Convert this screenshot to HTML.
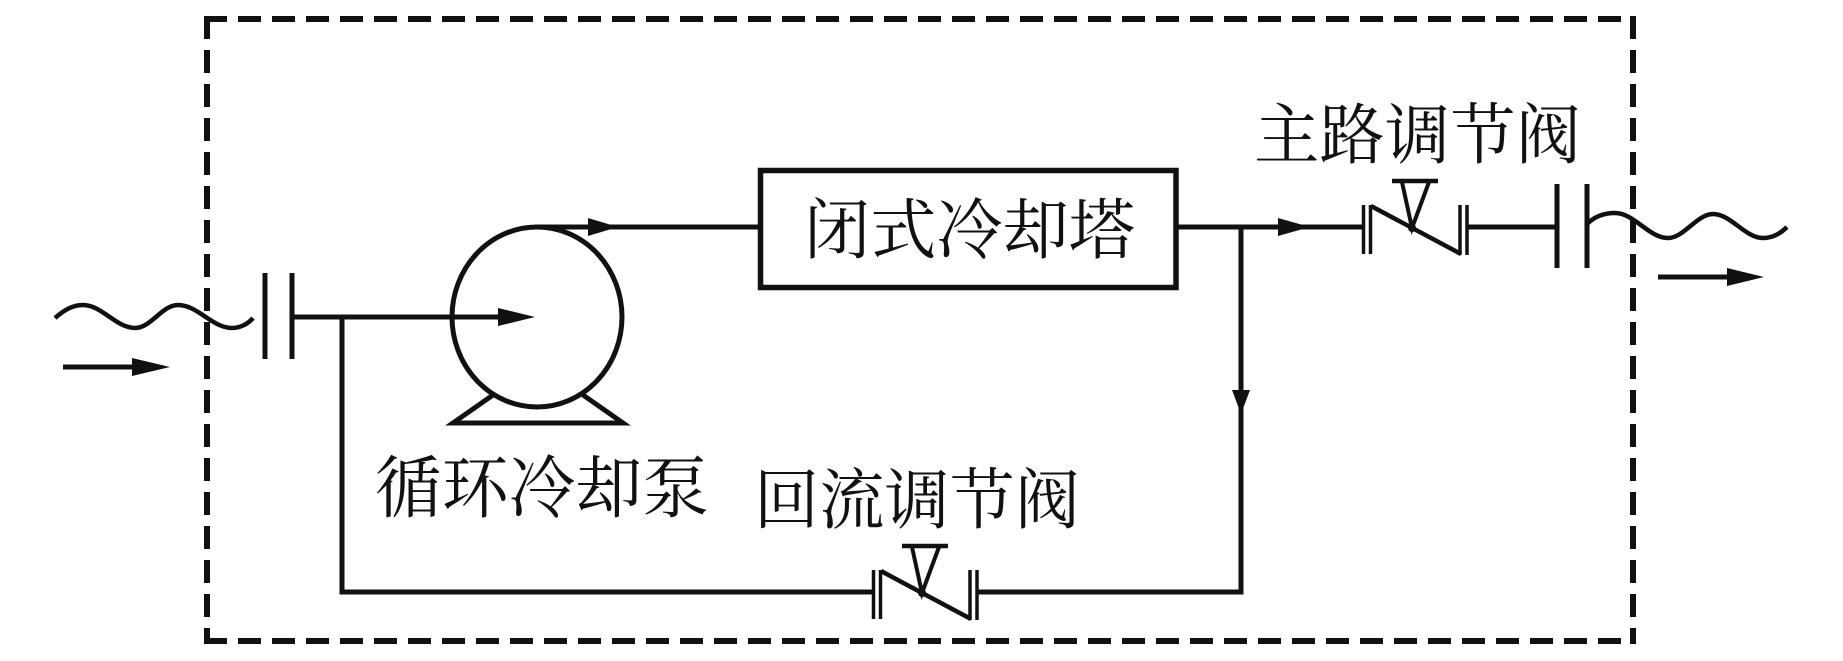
<!DOCTYPE html>
<html>
<head>
<meta charset="utf-8">
<style>
  html, body { margin: 0; padding: 0; background: #fff; }
  svg { display: block; }
  text { font-family: "Liberation Serif", "Noto Serif CJK SC", "Noto Sans CJK SC", serif; fill: #111; }
</style>
</head>
<body>
<svg width="1843" height="661" viewBox="0 0 1843 661" xmlns="http://www.w3.org/2000/svg">
  <rect x="0" y="0" width="1843" height="661" fill="#fff"/>

  <!-- dashed boundary -->
  <g stroke="#111" stroke-width="6" stroke-dasharray="23 11" fill="none">
    <line x1="204" y1="19" x2="1636" y2="19"/>
    <line x1="207" y1="16" x2="207" y2="644"/>
    <line x1="1633" y1="16" x2="1633" y2="644"/>
    <line x1="204" y1="641" x2="1636" y2="641"/>
  </g>

  <!-- inlet wave -->
  <path d="M55,318 C63,311 72,305 83,305 C102,305 116,328 135,328 C151,328 162,305 178,305 C198,305 212,328 232,328 C240,328 248,324 253,318"
        stroke="#111" stroke-width="4.5" fill="none"/>
  <!-- inlet arrow -->
  <line x1="63" y1="367" x2="136" y2="367" stroke="#111" stroke-width="5"/>
  <polygon points="132,358 170,367 132,376" fill="#111"/>

  <!-- inlet flanges -->
  <g stroke="#111" stroke-width="5">
    <line x1="265" y1="273" x2="265" y2="359"/>
    <line x1="292" y1="273" x2="292" y2="359"/>
  </g>

  <!-- pipes -->
  <g stroke="#111" stroke-width="5" fill="none">
    <line x1="292" y1="317" x2="505" y2="317"/>
    <polyline points="342,317 342,592 873,592"/>
    <line x1="978" y1="592" x2="1243.5" y2="592"/>
    <line x1="1241" y1="227" x2="1241" y2="594.5"/>
    <line x1="535" y1="227" x2="760" y2="227"/>
    <line x1="1176" y1="227" x2="1363" y2="227"/>
    <line x1="1467" y1="227" x2="1557" y2="227"/>
  </g>

  <!-- pump -->
  <ellipse cx="537" cy="317" rx="85" ry="90" stroke="#111" stroke-width="5" fill="none"/>
  <polyline points="493,395 453,423 623,423 583,395" stroke="#111" stroke-width="5" fill="none" stroke-linejoin="miter"/>
  <polygon points="498,308 535,317 498,326" fill="#111"/>
  <polygon points="588,218 618,227 588,236" fill="#111"/>

  <!-- cooling tower box -->
  <rect x="760.5" y="170.5" width="415.5" height="117" stroke="#111" stroke-width="5.5" fill="none"/>

  <!-- arrows on lines -->
  <polygon points="1278,218 1310,227 1278,236" fill="#111"/>
  <polygon points="1232,390 1241,414 1250,390" fill="#111"/>

  <!-- return valve -->
  <g id="valve" stroke="#111" fill="none">
    <line x1="873.5" y1="570" x2="873.5" y2="619" stroke-width="3.5"/>
    <line x1="880.5" y1="570" x2="880.5" y2="619" stroke-width="3.5"/>
    <line x1="970" y1="570" x2="970" y2="620" stroke-width="3.5"/>
    <line x1="977" y1="570" x2="977" y2="620" stroke-width="3.5"/>
    <line x1="881" y1="571" x2="971" y2="619" stroke-width="4.5"/>
    <line x1="902" y1="546" x2="948" y2="546" stroke-width="4.5"/>
    <polyline points="912,547 922,593 939,547" stroke-width="4"/>
    <circle cx="922" cy="593" r="4" fill="#111" stroke="none"/>
  </g>
  <!-- main valve (same shape translated) -->
  <g transform="translate(490,-365)" stroke="#111" fill="none">
    <line x1="873.5" y1="570" x2="873.5" y2="619" stroke-width="3.5"/>
    <line x1="880.5" y1="570" x2="880.5" y2="619" stroke-width="3.5"/>
    <line x1="970" y1="570" x2="970" y2="620" stroke-width="3.5"/>
    <line x1="977" y1="570" x2="977" y2="620" stroke-width="3.5"/>
    <line x1="881" y1="571" x2="971" y2="619" stroke-width="4.5"/>
    <line x1="902" y1="546" x2="948" y2="546" stroke-width="4.5"/>
    <polyline points="912,547 922,593 939,547" stroke-width="4"/>
    <circle cx="922" cy="593" r="4" fill="#111" stroke="none"/>
  </g>

  <!-- outlet flanges -->
  <g stroke="#111" stroke-width="5">
    <line x1="1557" y1="184" x2="1557" y2="268"/>
    <line x1="1587" y1="184" x2="1587" y2="268"/>
  </g>
  <!-- outlet wave -->
  <path d="M1587,224 C1595,216 1604,213 1615,213 C1634,213 1649,238 1668,238 C1684,238 1697,214 1713,214 C1731,214 1745,238 1763,238 C1772,238 1780,234 1787,227"
        stroke="#111" stroke-width="4.5" fill="none"/>
  <!-- outlet arrow -->
  <line x1="1658" y1="277" x2="1730" y2="277" stroke="#111" stroke-width="5"/>
  <polygon points="1727,268 1764,277 1727,286" fill="#111"/>

  <!-- labels -->
  <text x="1254" y="158" font-size="66" textLength="327" lengthAdjust="spacingAndGlyphs">主路调节阀</text>
  <text x="804" y="253" font-size="66" textLength="331" lengthAdjust="spacingAndGlyphs">闭式冷却塔</text>
  <text x="375" y="512" font-size="68" textLength="334" lengthAdjust="spacingAndGlyphs">循环冷却泵</text>
  <text x="754" y="523" font-size="66" textLength="326" lengthAdjust="spacingAndGlyphs">回流调节阀</text>
</svg>
</body>
</html>
